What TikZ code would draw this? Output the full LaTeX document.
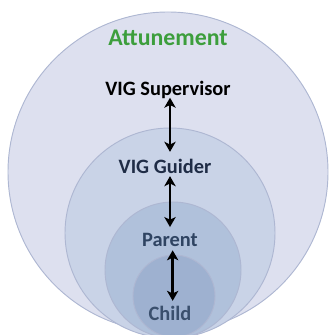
\documentclass[tikz,border=0pt]{standalone}
\usepackage{fontspec}
\setmainfont{Carlito}
\usetikzlibrary{arrows.meta}

\definecolor{ringA}{HTML}{DDE0EF}
\definecolor{ringB}{HTML}{C9D3E7}
\definecolor{ringC}{HTML}{B0C1DB}
\definecolor{ringD}{HTML}{9EB1D0}
\definecolor{rimblue}{HTML}{AEB7D2}
\definecolor{attgreen}{HTML}{3C9E3C}
\definecolor{navy}{HTML}{1F2C46}
\definecolor{slate}{HTML}{2F4462}

\begin{document}
\begin{tikzpicture}[
  x=0.75pt, y=0.75pt,
  ring/.style={circle, draw=rimblue, line width=0.7pt, inner sep=0pt},
  lbl/.style={font=\bfseries\fontsize{15.3}{17}\selectfont, inner sep=0pt},
  link/.style={line width=2pt, {Stealth[length=7.5pt,width=8.5pt,inset=2pt]}-{Stealth[length=7.5pt,width=8.5pt,inset=2pt]}},
]
\useasboundingbox (0,0) rectangle (330,335);
\clip (0,0) rectangle (330,335);

% nested circles, all meeting at the bottom
\node[ring, fill=ringA, minimum size=240pt] (outer) at (168,163) {};
\node[ring, fill=ringB, minimum size=157.5pt] (guidring) at (170,102) {};
\node[ring, fill=ringC, minimum size=102pt] (parring) at (173,65) {};
\node[ring, fill=ringD, minimum size=61.5pt] (kidring) at (174,39) {};

% labels
\node[lbl, text=attgreen, font=\bfseries\fontsize{17.9}{20}\selectfont] (att) at (168,297) {Attunement};
\node[lbl, text=black] (sup) at (168,245) {VIG Supervisor};
\node[lbl, text=navy] (guid) at (165,169) {VIG Guider};
\node[lbl, text=slate] (par) at (170,95) {Parent};
\node[lbl, text=slate!90!ringD] (kid) at (170,22) {Child};

% two-way links
\draw[link, shorten <=-1pt, shorten >=5pt] ([xshift=1.5pt]sup.south) -- ([xshift=1.5pt]sup.south |- guid.north);
\draw[link, shorten <=2pt, shorten >=4.5pt] (par.north |- guid.south) -- (par.north);
\draw[link, shorten <=2.5pt, shorten >=3.5pt] ([xshift=2pt]par.south) -- ([xshift=2pt]kid.north);
\end{tikzpicture}
\end{document}
